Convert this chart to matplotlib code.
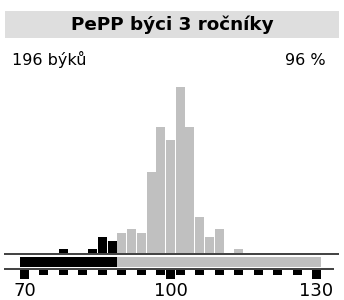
import numpy as np
import matplotlib.pyplot as plt

# histogram data (bin centres, counts)
centers = [70, 72, 74, 76, 78, 80, 82, 84, 86, 88, 90, 92, 94, 96, 98, 100,
           102, 104, 106, 108, 110, 112, 114, 116, 118, 120, 122, 124, 126, 128, 130]
counts = [0, 0, 0, 0, 1, 0, 0, 1, 4, 3, 5, 6, 5, 20, 31, 28,
          41, 31, 9, 4, 6, 0, 1, 0, 0, 0, 0, 0, 0, 0, 0]
split = 89          # below = black, above = grey
range_lo, range_hi = 69, 131
small_ticks = [74, 78, 82, 86, 90, 94, 98, 102, 106, 110, 114, 118, 122, 126]
big_ticks = [70, 100, 130]
tick_labels = ['70', '100', '130']

title = 'PePP býci 3 ročníky'
left_text = '196 býků'
right_text = '96 %'

GREY = '#c0c0c0'
W, H = 344, 300

fig = plt.figure(figsize=(W / 100, H / 100), dpi=100)
ppu = 292 / 60                  # pixels per unit on x
x0 = 70 - 24.5 / ppu
x1 = x0 + W / ppu
px = lambda p: x0 + p / ppu     # pixel column -> data x

# overlay axes in pixel coords (y from top)
ov = fig.add_axes([0, 0, 1, 1])
ov.set_xlim(x0, x1)
ov.set_ylim(H, 0)
ov.axis('off')

# histogram axes
ax = fig.add_axes([0, 47 / H, 1, 166 / H])
ax.set_xlim(x0, x1)
ax.set_ylim(0, 41)
ax.axis('off')

cols = ['black' if c < split else GREY for c in centers]
ax.bar(centers, counts, width=1.85, color=cols, clip_on=False)

# title band
ov.add_patch(plt.Rectangle((px(5), 11), px(339) - px(5), 27, color='#dedede', lw=0))
ov.text(np.mean([x0, x1]), 25, title, ha='center', va='center',
        fontsize=13.2, fontweight='bold')
ov.text(px(11.5), 65, left_text, ha='left', va='baseline', fontsize=11.5)
ov.text(px(326), 65, right_text, ha='right', va='baseline', fontsize=11.5)

# baseline and lower line
ov.hlines(253.5, px(4), px(339), color='#404040', lw=1.4)
ov.hlines(269, px(4), px(334), color='#404040', lw=1.4)

# range bar
ov.barh(261.7, split - range_lo, left=range_lo, height=10, color='black')
ov.barh(261.7, range_hi - split, left=split, height=10, color=GREY)

# tick squares
ov.bar(small_ticks, 5.5, bottom=269.5, width=1.85, color='black')
ov.bar(big_ticks, 9.5, bottom=269.5, width=1.85, color='black')
for t, lab in zip(big_ticks, tick_labels):
    ov.text(t, 299.5, lab, ha='center', va='bottom', fontsize=13)

fig.savefig('out.png', dpi=100)
